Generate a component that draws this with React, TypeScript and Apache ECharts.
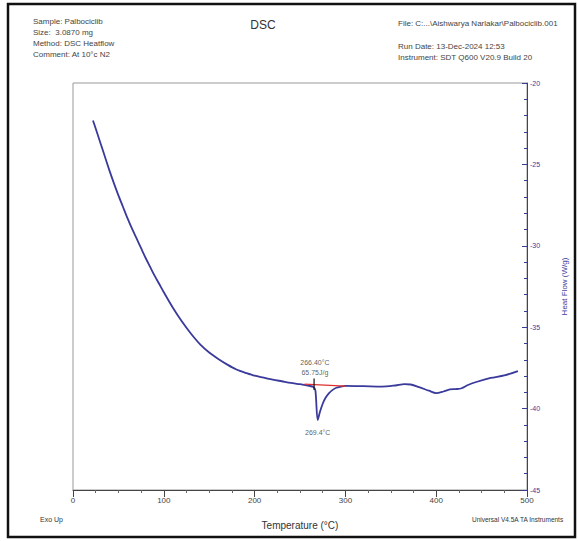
import React, { useEffect, useRef } from "react";
import * as echarts from "echarts";

const temps = [22, 25, 30, 35, 40, 45, 50, 55, 60, 65, 70, 75, 80, 85, 90, 95, 100, 110, 120, 130, 140, 150, 160, 170, 180, 190, 200, 210, 220, 230, 240, 250, 260, 265, 267, 269.5, 272, 275, 278, 282, 286, 290, 295, 300, 320, 340, 355, 365, 372, 382, 392, 400, 408, 415, 422, 428, 435, 445, 460, 475, 490];
const heatFlow = [-22.3, -22.8, -23.65, -24.5, -25.35, -26.15, -26.9, -27.6, -28.3, -28.95, -29.55, -30.15, -30.75, -31.3, -31.85, -32.35, -32.85, -33.8, -34.65, -35.4, -36.05, -36.55, -36.95, -37.3, -37.6, -37.8, -37.98, -38.1, -38.22, -38.32, -38.42, -38.5, -38.6, -38.68, -38.9, -40.7, -40.2, -39.7, -39.35, -39.05, -38.85, -38.72, -38.65, -38.6, -38.62, -38.65, -38.58, -38.5, -38.52, -38.7, -38.9, -39.05, -38.95, -38.82, -38.8, -38.75, -38.55, -38.35, -38.12, -37.96, -37.7];

const baselineT = [255, 300];
const baselineHF = [-38.5, -38.62];
const onsetTickT = [265.5, 265.5];
const onsetTickHF = [-38.15, -38.85];

const onsetLabel = ["266.40°C", "65.75J/g"];
const onsetPoint = [266.4, -38.45];
const peakLabel = "269.4°C";
const peakPoint = [269.5, -40.75];

const headerLeft = ["Sample: Palbociclib", "Size:  3.0870 mg", "Method: DSC Heatflow", "Comment: At 10°c N2"];
const headerRight = ["File: C:...\\Aishwarya Narlakar\\Palbociclib.001", "", "Run Date: 13-Dec-2024 12:53", "Instrument: SDT Q600 V20.9 Build 20"];

const xMin = 0, xMax = 500, xInterval = 100;
const yMin = -45, yMax = -20, yInterval = 5;

const FONT = "Liberation Sans";
const BLUE = "#3a3a9c";

export default function App() {
  const ref = useRef<HTMLDivElement>(null);
  useEffect(() => {
    if (!ref.current) return;
    const chart = echarts.init(ref.current, null, { renderer: "svg" });
    const curve = temps.map((t, i) => [t, heatFlow[i]]);
    const graphics: any[] = [
      { type: "rect", shape: { x: 8, y: 4, width: 567, height: 533 }, style: { fill: "none", stroke: "#111", lineWidth: 2.5 }, silent: true },
      { type: "text", x: 263, y: 25, style: { text: "DSC", font: `12px ${FONT}`, fill: "#333", align: "center", verticalAlign: "middle" } },
      { type: "text", x: 40, y: 519, style: { text: "Exo Up", font: `7px ${FONT}`, fill: "#333", verticalAlign: "middle" } },
      { type: "text", x: 472, y: 519, style: { text: "Universal V4.5A TA Instruments", font: `6.5px ${FONT}`, fill: "#333", verticalAlign: "middle" } },
    ];
    headerLeft.forEach((t, i) => graphics.push({ type: "text", x: 33, y: 21 + i * 11, style: { text: t, font: `8px ${FONT}`, fill: "#444", verticalAlign: "middle" } }));
    headerRight.forEach((t, i) => t && graphics.push({ type: "text", x: 398, y: 23 + i * 11.5, style: { text: t, font: `8px ${FONT}`, fill: "#444", verticalAlign: "middle" } }));

    chart.setOption({
      animation: false,
      grid: { left: 73, right: 51, top: 83, bottom: 51, show: true, borderColor: "#999", borderWidth: 1 },
      xAxis: {
        type: "value", min: xMin, max: xMax, interval: xInterval,
        name: "Temperature (°C)", nameLocation: "middle", nameGap: 30,
        nameTextStyle: { fontFamily: FONT, fontSize: 10, color: "#333" },
        axisLine: { onZero: false, lineStyle: { color: "#444", width: 1 } },
        axisTick: { length: 7, lineStyle: { color: "#444" } },
        minorTick: { show: true, splitNumber: 4, length: 3, lineStyle: { color: "#666" } },
        axisLabel: { fontFamily: FONT, fontSize: 8, color: "#444", margin: 6 },
        splitLine: { show: false },
      },
      yAxis: {
        type: "value", position: "right", min: yMin, max: yMax, interval: yInterval,
        name: "Heat Flow (W/g)", nameLocation: "middle", nameGap: 33, nameRotate: 90,
        nameTextStyle: { fontFamily: FONT, fontSize: 8, color: BLUE },
        axisLine: { show: true, onZero: false, lineStyle: { color: BLUE, width: 1 } },
        axisTick: { show: true, inside: true, length: 5, lineStyle: { color: BLUE } },
        minorTick: { show: true, splitNumber: 5, length: 3, lineStyle: { color: BLUE } },
        axisLabel: { fontFamily: FONT, fontSize: 7, color: BLUE, margin: 3 },
        splitLine: { show: false },
      },
      series: [
        { type: "line", data: curve, showSymbol: false, smooth: 0.3, lineStyle: { color: BLUE, width: 1.8 }, z: 3 },
        { type: "line", data: baselineT.map((t, i) => [t, baselineHF[i]]), showSymbol: false, lineStyle: { color: "#e03030", width: 1.2 }, z: 4 },
        { type: "line", data: onsetTickT.map((t, i) => [t, onsetTickHF[i]]), showSymbol: false, lineStyle: { color: "#111", width: 1.2 }, z: 5 },
        {
          type: "scatter", symbolSize: 0, z: 6,
          data: [
            { value: onsetPoint, label: { show: true, position: "top", distance: 6, formatter: onsetLabel.join("\n"), lineHeight: 10 } },
            { value: peakPoint, label: { show: true, position: "bottom", distance: 8, formatter: peakLabel } },
          ],
          label: { fontFamily: FONT, fontSize: 7, color: "#333" },
        },
      ],
      graphic: graphics,
    });
    return () => chart.dispose();
  }, []);
  return <div ref={ref} style={{ position: "fixed", left: 0, top: 0, width: 578, height: 541, background: "#fff" }} />;
}
